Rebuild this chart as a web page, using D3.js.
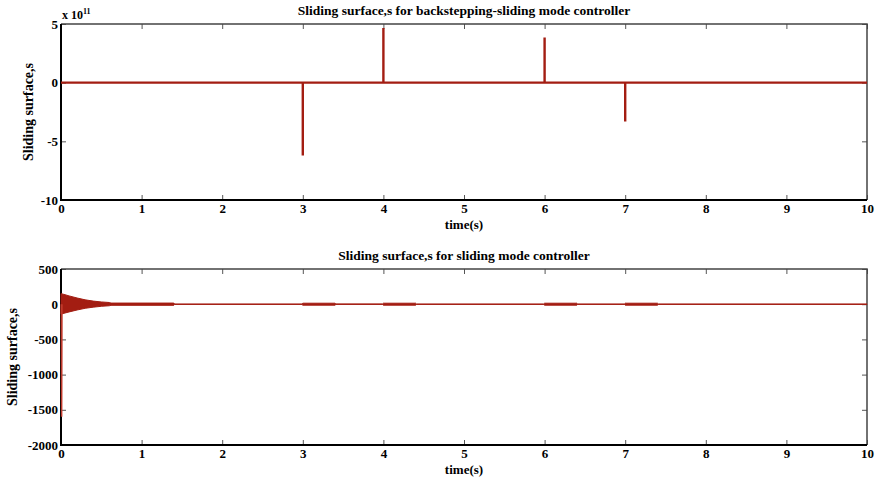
<!DOCTYPE html>
<html>
<head>
<meta charset="utf-8">
<script src="https://cdn.jsdelivr.net/npm/d3@7"></script>
<style>
  body { margin: 0; background: #fff; }
  text { font-family: "Liberation Serif", "Times New Roman", serif; font-weight: bold; }
</style>
</head>
<body>
<div id="main"></div>
<script>
// top panel: spikes in units of 1e11
var spikeTimes = [3, 4, 6, 7];
var spikeValues = [-6.2, 4.65, 3.85, -3.3];

// bottom panel: envelope of the fast oscillation
var envTimes = [0, 0.05, 0.1, 0.2, 0.3, 0.4, 0.5, 0.6, 0.62, 1.4, 1.41, 2.99, 3.0, 3.4, 3.41, 3.99, 4.0, 4.4, 4.41, 5.99, 6.0, 6.4, 6.41, 6.99, 7.0, 7.4, 7.41, 10];
var envUpper = [150, 135, 118, 88, 62, 44, 32, 24, 16, 16, 3, 3, 14, 14, 4, 4, 14, 14, 3, 3, 14, 14, 3, 3, 14, 14, 3, 3];
var envLower = [-140, -125, -110, -82, -58, -42, -30, -22, -16, -16, -3, -3, -14, -14, -3, -3, -14, -14, -3, -3, -14, -14, -3, -3, -14, -14, -3, -3];
var initTimes = [0.004, 0.008, 0.012];
var initValues = [0, -1600, 0];

var xTicks = [0, 1, 2, 3, 4, 5, 6, 7, 8, 9, 10];
var topTicks = [5, 0, -5, -10];
var bottomTicks = [500, 0, -500, -1000, -1500, -2000];

var red = "#a31d12";
var width = 879, height = 480;
var serif = "'Liberation Serif', 'Times New Roman', serif";

var svg = d3.select("#main").append("svg")
    .attr("width", width)
    .attr("height", height);

var x = d3.scaleLinear().domain([0, 10]).range([61, 867]);

// plain hyphen for negatives, like the original figure
var fmt = function(d) { return String(d); };

function panel(top, bottom, yDomain, yTicks, title, titleY, labelX) {
  var y = d3.scaleLinear().domain(yDomain).range([bottom, top]);
  var g = svg.append("g");

  // ticks on all four sides, pointing inward
  g.append("g")
    .attr("transform", "translate(0," + bottom + ")")
    .call(d3.axisBottom(x).tickValues(xTicks).tickSizeInner(-5).tickSizeOuter(0).tickPadding(4).tickFormat(fmt))
    .call(styleAxis);
  g.append("g")
    .attr("transform", "translate(0," + top + ")")
    .call(d3.axisTop(x).tickValues(xTicks).tickSizeInner(-5).tickSizeOuter(0).tickFormat(""))
    .call(styleAxis);
  g.append("g")
    .attr("transform", "translate(61,0)")
    .call(d3.axisLeft(y).tickValues(yTicks).tickSizeInner(-5).tickSizeOuter(0).tickPadding(3).tickFormat(fmt))
    .call(styleAxis);
  g.append("g")
    .attr("transform", "translate(867,0)")
    .call(d3.axisRight(y).tickValues(yTicks).tickSizeInner(-5).tickSizeOuter(0).tickFormat(""))
    .call(styleAxis);

  g.selectAll(".tick text").attr("font-size", 13).attr("fill", "#000");
  g.selectAll(".tick line").attr("stroke", "#555").attr("stroke-width", 1);

  // frame: thin grey top/right, heavy black left/bottom
  g.append("path")
    .attr("d", "M61," + top + "H867V" + bottom)
    .attr("fill", "none").attr("stroke", "#444").attr("stroke-width", 1.5);
  g.append("path")
    .attr("d", "M61," + top + "V" + bottom + "H867")
    .attr("fill", "none").attr("stroke", "#000").attr("stroke-width", 2);

  g.append("text")
    .attr("x", 464).attr("y", titleY)
    .attr("text-anchor", "middle")
    .attr("font-size", 13.5)
    .text(title);

  g.append("text")
    .attr("x", 464).attr("y", bottom + 29)
    .attr("text-anchor", "middle")
    .attr("font-size", 13)
    .text("time(s)");

  g.append("text")
    .attr("transform", "translate(" + labelX + "," + ((top + bottom) / 2) + ") rotate(-90)")
    .attr("text-anchor", "middle")
    .attr("font-size", 14)
    .text("Sliding surface,s");

  return y;
}

function styleAxis(sel) {
  sel.attr("font-family", serif).attr("font-weight", "bold");
  sel.select(".domain").remove();
}

// top panel
var y1 = panel(24, 200, [-10, 5], topTicks, "Sliding surface,s for backstepping-sliding mode controller", 15, 33);

var topPts = [[0, 0]];
spikeTimes.forEach(function(t, i) {
  topPts.push([t, 0], [t, spikeValues[i]], [t, 0]);
});
topPts.push([10, 0]);

svg.append("path")
  .datum(topPts)
  .attr("fill", "none")
  .attr("stroke", red)
  .attr("stroke-width", 2.4)
  .attr("d", d3.line().x(function(d) { return x(d[0]); }).y(function(d) { return y1(d[1]); }));

var mult = svg.append("text")
  .attr("x", 62).attr("y", 19)
  .attr("font-size", 12);
mult.append("tspan").text("x 10");
mult.append("tspan").attr("dy", -5).attr("font-size", 8).text("11");

// bottom panel
var y2 = panel(269, 445, [-2000, 500], bottomTicks, "Sliding surface,s for sliding mode controller", 260, 17);

var env = envTimes.map(function(t, i) { return { t: t, hi: envUpper[i], lo: envLower[i] }; });

svg.append("path")
  .datum(env)
  .attr("fill", red)
  .attr("stroke", red)
  .attr("stroke-width", 1)
  .attr("d", d3.area()
    .x(function(d) { return x(d.t); })
    .y0(function(d) { return y2(d.lo); })
    .y1(function(d) { return y2(d.hi); }));

svg.append("path")
  .datum(initTimes.map(function(t, i) { return [t, initValues[i]]; }))
  .attr("fill", "none")
  .attr("stroke", "#c0392b")
  .attr("stroke-width", 1.5)
  .attr("d", d3.line().x(function(d) { return x(d[0]); }).y(function(d) { return y2(d[1]); }));
</script>
</body>
</html>
